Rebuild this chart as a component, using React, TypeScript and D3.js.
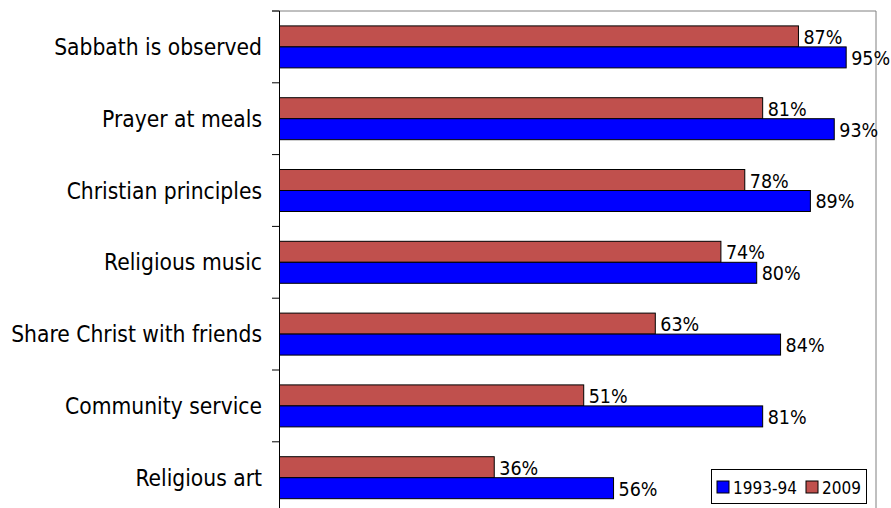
import React from "react";
import * as d3 from "d3";

const categories = [
  "Sabbath is observed",
  "Prayer at meals",
  "Christian principles",
  "Religious music",
  "Share Christ with friends",
  "Community service",
  "Religious art",
];
const values2009 = [87, 81, 78, 74, 63, 51, 36];
const values1993 = [95, 93, 89, 80, 84, 81, 56];
const seriesNames = ["2009", "1993-94"];
const legendNames = ["1993-94", "2009"];
const seriesColors: Record<string, string> = { "2009": "#C0504D", "1993-94": "#0000FF" };

const W = 891;
const H = 508;
const FONT = "'DejaVu Sans Condensed', 'DejaVu Sans', sans-serif";

export default function App() {
  const left = 279.5;
  const right = 876;
  const top = 11;
  const band = 71.8;
  const bottom = top + band * categories.length;

  const x = d3.scaleLinear().domain([0, 100]).range([left, right]);
  const y = d3.scaleBand<string>().domain(categories).range([top, bottom]).paddingInner(0).paddingOuter(0);
  const bw = y.bandwidth();
  const ys = d3.scaleBand<string>().domain(seriesNames).range([0, bw]).paddingInner(0).paddingOuter(0.71);

  const seriesData: Record<string, number[]> = { "2009": values2009, "1993-94": values1993 };

  return (
    <div style={{ position: "fixed", left: 0, top: 0 }}>
      <svg width={W} height={H} style={{ display: "block", background: "#fff" }}>
        <line x1={272} x2={right} y1={top} y2={top} stroke="#808080" strokeWidth={1} />
        <line x1={right} x2={right} y1={top} y2={bottom} stroke="#808080" strokeWidth={1} />
        {seriesNames.map((s) =>
          categories.map((c, i) => {
            const v = seriesData[s][i];
            const by = (y(c) as number) + (ys(s) as number);
            return (
              <g key={s + c}>
                <rect
                  x={x(0)}
                  y={by}
                  width={x(v) - x(0)}
                  height={ys.bandwidth()}
                  fill={seriesColors[s]}
                  stroke="#000"
                  strokeWidth={1}
                />
                <text
                  x={x(v) + 5}
                  y={by + ys.bandwidth() / 2 + 1}
                  dominantBaseline="central"
                  fontFamily={FONT}
                  fontSize={19.5}
                  fill="#000"
                >
                  {v}%
                </text>
              </g>
            );
          })
        )}
        <line x1={left} x2={left} y1={top} y2={bottom} stroke="#000" strokeWidth={1} />
        {d3.range(categories.length + 1).map((k) => {
          const ty = k < categories.length ? (y(categories[k]) as number) : bottom;
          return <line key={"t" + k} x1={272} x2={left} y1={ty} y2={ty} stroke="#000" strokeWidth={1} />;
        })}
        {categories.map((c) => (
          <text
            key={"l" + c}
            x={262}
            y={(y(c) as number) + bw / 2}
            textAnchor="end"
            dominantBaseline="central"
            fontFamily={FONT}
            fontSize={22.6}
            fill="#000"
          >
            {c}
          </text>
        ))}
        <g>
          <rect x={711.5} y={469.5} width={155} height={34} fill="#fff" stroke="#000" strokeWidth={1} />
          {legendNames.map((s, i) => {
            const lx = i === 0 ? 717 : 806;
            return (
              <g key={"lg" + s}>
                <rect x={lx} y={481} width={12} height={12} fill={seriesColors[s]} stroke="#000" strokeWidth={1} />
                <text x={lx + 16} y={487.5} dominantBaseline="central" fontFamily={FONT} fontSize={17} fill="#000">
                  {s}
                </text>
              </g>
            );
          })}
        </g>
      </svg>
    </div>
  );
}
